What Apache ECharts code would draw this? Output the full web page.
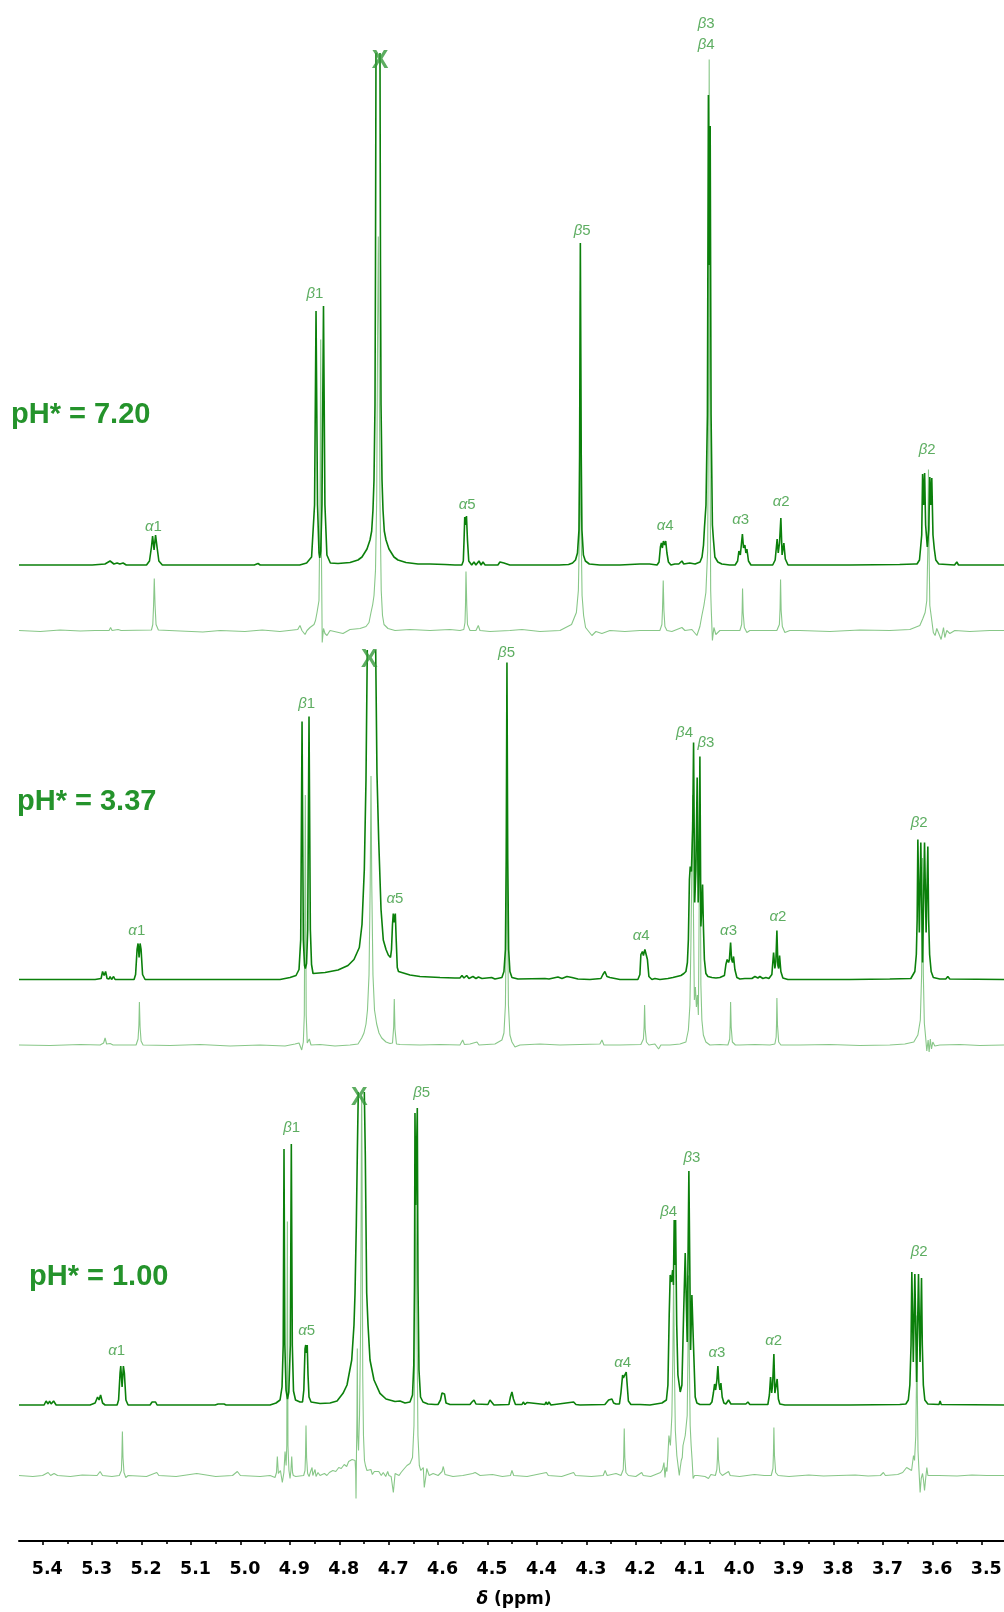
<!DOCTYPE html>
<html><head><meta charset="utf-8">
<script src="https://cdn.jsdelivr.net/npm/echarts@6/dist/echarts.min.js"></script>
<style>html,body{margin:0;padding:0;background:#fff}#c{width:1004px;height:1612px}</style>
</head><body><div id="c"></div>
<script>
// ---------- DATA ----------
const tickValues = [5.4,5.3,5.2,5.1,5.0,4.9,4.8,4.7,4.6,4.5,4.4,4.3,4.2,4.1,4.0,3.9,3.8,3.7,3.6,3.5];
const minorTickValues = [5.45,5.35,5.25,5.15,5.05,4.95,4.85,4.75,4.65,4.55,4.45,4.35,4.25,4.15,4.05,3.95,3.85,3.75,3.65,3.55];
const spectrumNames = ['pH* = 7.20','pH* = 3.37','pH* = 1.00'];

// [ppm, intensity above the trace baseline]; null = truncated peak
const topMain = [[5.448,0],[5.300,0],[5.274,1],[5.2637,4],[5.256,1],[5.2495,2],[5.244,1],[5.2374,2],[5.231,0],
[5.190,0],[5.184,4],[5.180,18],[5.1777,29],[5.1747,15],[5.1717,30],[5.1687,18],[5.165,4],[5.158,0],
[4.980,0],[4.9765,2],[4.972,0],[4.9643,1.5],[4.960,0],
[4.880,0],[4.866,2],[4.856,8],[4.850,60],[4.8470,254],[4.844,60],[4.8410,12],[4.8395,7],[4.8375,14],[4.835,60],[4.8319,259],[4.829,60],[4.825,10],[4.818,2],
[4.8025,1.5],[4.7782,2.5],[4.7621,5],[4.7540,8],[4.7439,16],[4.7378,25],[4.7344,34],[4.7318,55],[4.7297,85],[4.7277,160],[4.7267,300],[4.7257,512],[4.7216,null],[4.7176,512],[4.7166,300],[4.7155,160],[4.7135,85],[4.7115,55],[4.7089,34],[4.7054,25],[4.6994,16],[4.6893,8],[4.6812,5],[4.6650,2.5],[4.6407,1],[4.6164,1],[4.5861,0.5],[4.5659,0],
[4.5520,0],[4.5490,4],[4.5475,25],[4.5461,48],[4.5444,40],[4.5426,49],[4.5406,25],[4.5380,4],[4.5320,0],
[4.5274,3],[4.5235,0],[4.5173,4],[4.5130,0],[4.5092,3],[4.5050,0],
[4.479,0],[4.4749,3],[4.4668,2],[4.455,0],[4.430,0],[4.4283,2],[4.425,0],
[4.355,0],[4.336,0.5],[4.328,2],[4.322,5],[4.318,12],[4.315,35],[4.3137,110],[4.3122,322],[4.3104,110],[4.309,35],[4.306,10],[4.302,4],[4.294,1],[4.273,0],
[4.232,0],[4.192,1],[4.172,1],
[4.157,0],[4.153,3],[4.1502,18],[4.1482,22],[4.1462,17],[4.1441,24],[4.1415,20],[4.1395,24],[4.1370,12],[4.134,3],[4.129,0],
[4.121,1],[4.113,1],[4.1067,4],[4.103,1],[4.091,2],[4.080,1],[4.070,3],
[4.066,8],[4.063,20],[4.061,38],[4.058,60],[4.0551,150],[4.0531,470],[4.0513,300],[4.0495,439],[4.0477,150],[4.045,40],[4.043,26],[4.040,8],[4.034,3],[4.026,1],[4.010,0],
[3.999,0],[3.994,4],[3.9914,14],[3.9885,10],[3.9843,31],[3.982,17],[3.9793,20],[3.9772,12],[3.9752,16],[3.972,4],[3.967,0],
[3.923,0],[3.918,5],[3.9140,26],[3.9118,12],[3.9092,22],[3.9065,47],[3.904,10],[3.9004,22],[3.8975,6],[3.892,0],
[3.868,0],[3.767,0],[3.666,0.5],[3.636,1],
[3.631,1],[3.626,5],[3.624,16],[3.6215,30],[3.6197,91],[3.6177,60],[3.6156,92],[3.6136,40],[3.6102,18],[3.6072,35],[3.6051,88],[3.6031,60],[3.6011,87],[3.5987,30],[3.596,16],[3.593,5],[3.587,1],
[3.555,0],[3.5505,3],[3.547,0],[3.455,0]];

const topPure = [[5.448,0],[5.405,-1],[5.365,0.5],[5.324,-0.5],[5.294,0],[5.2657,0],[5.2627,3],[5.2597,0],[5.2475,1],[5.2414,0],
[5.180,0.5],[5.1773,6],[5.1757,25],[5.1743,52],[5.1727,25],[5.1707,6],[5.166,0.5],
[5.122,-0.5],[5.076,-1.5],[5.041,0],[4.991,-1],[4.956,0.5],[4.920,-1],[4.884,1],[4.8795,5],[4.8755,0],[4.8693,-4],[4.8652,0],[4.8592,3],[4.8511,6],[4.8481,10],[4.8450,18],[4.8410,30],[4.8390,120],[4.8375,291],[4.8361,80],[4.8345,-12],[4.8319,2],[4.8289,-3],[4.8248,-5],[4.8187,0],[4.7924,-3],[4.7782,1],[4.7580,2],
[4.7459,4],[4.7398,8],[4.7358,18],[4.7323,26],[4.7297,35],[4.7267,60],[4.7243,130],[4.7224,300],[4.7210,394],[4.7196,300],[4.7176,130],[4.7151,40],[4.7125,15],[4.7095,6],[4.7014,2],[4.6872,0],[4.6569,1],[4.6164,0],[4.5760,1],[4.5558,0],
[4.5480,1],[4.5456,8],[4.5446,25],[4.5436,59],[4.5420,25],[4.5406,6],[4.5355,0],[4.5234,0],[4.5187,5],[4.5153,0],[4.4951,-1],[4.4547,0],[4.4303,1],[4.3940,-1],[4.3535,0],
[4.330,6],[4.3202,18],[4.3162,40],[4.3132,120],[4.3122,340],[4.3112,120],[4.3087,35],[4.3056,15],[4.3016,3],[4.2888,-5],[4.2807,-1],[4.2686,-3],[4.2524,0],[4.2220,-1],[4.1917,0],[4.1613,0],
[4.1513,0],[4.1472,6],[4.1459,22],[4.1445,50],[4.1431,20],[4.1411,4],[4.1370,0],[4.1270,-1],[4.1067,3],[4.1006,0],[4.0865,1],[4.0764,-5],[4.0703,4],[4.0663,15],[4.0622,25],[4.0582,38],[4.0546,80],[4.0527,250],[4.0515,571],[4.0503,250],[4.0485,40],[4.0474,22],[4.0450,-10],[4.0420,3],[4.0380,-4],[4.0299,0],[4.0096,0],
[3.9894,0],[3.9858,6],[3.9848,20],[3.9840,42],[3.9828,18],[3.9804,3],[3.9753,-2],[3.9692,0],
[3.9146,0],[3.9095,6],[3.9081,22],[3.9071,51],[3.9059,20],[3.9035,4],[3.8984,-2],[3.8883,0],
[3.8681,0],[3.8074,-1],[3.7468,0.5],[3.6861,0],[3.6455,1],[3.6253,5],[3.6192,12],[3.6146,18],[3.6112,30],[3.6092,80],[3.6078,161],[3.6066,80],[3.6051,25],[3.6011,10],[3.5980,-2],[3.5944,-5],[3.5910,2],[3.5869,-3],[3.5822,-9],[3.5774,3],[3.5748,-7],[3.5707,0],[3.5646,-3],[3.5545,0],[3.5242,-1],[3.4838,0],[3.455,0]];

const midMain = [[5.448,0],[5.365,0],[5.294,0],[5.2819,1],[5.2789,8],[5.2758,4],[5.2728,8],[5.2698,1],[5.2657,0.5],[5.2637,3],[5.2607,0],[5.2566,3],[5.2536,0],
[5.2152,0],[5.2121,5],[5.2091,30],[5.2071,36],[5.2050,22],[5.2030,36],[5.2010,30],[5.1980,5],[5.1929,0],
[5.0128,0],[5.0088,2],[5.0048,0],[4.9967,0],[4.9953,1.5],[4.9906,0],
[4.9198,0],[4.8996,2],[4.8875,4],[4.8814,10],[4.8780,40],[4.8753,258],[4.8727,40],[4.8703,14],[4.8687,11],[4.8662,16],[4.8638,50],[4.8612,263],[4.8585,50],[4.8561,15],[4.8531,6],
[4.8288,7],[4.8025,9.5],[4.7823,14],[4.7702,20],[4.7594,32],[4.7540,55],[4.7493,110],[4.7459,200],[4.7433,329.5],[4.7348,null],[4.7263,329.5],[4.7237,206],[4.7202,139.5],[4.7155,70],[4.7109,39.5],[4.7054,30],[4.7008,24.5],[4.6963,22],[4.6943,30],[4.6923,55],[4.6907,66],[4.6887,57],[4.6866,66],[4.6848,40],[4.6826,12],[4.6802,8],[4.6771,6.5],[4.6569,4.5],[4.6367,3],[4.5962,2],[4.5659,1.5],
[4.5558,1.5],[4.5517,4],[4.5477,1.5],[4.5422,4],[4.5376,1],[4.5295,3],[4.5234,1],[4.5184,2.5],[4.5113,1],[4.4917,2],[4.4850,0.5],
[4.4709,2],[4.4668,8],[4.4638,30],[4.4622,120],[4.4607,317],[4.4591,120],[4.4573,30],[4.4547,8],[4.4506,2],[4.4384,0.5],
[4.3838,1],[4.3798,3],[4.3757,0.5],[4.3575,2.5],[4.3494,1],[4.3393,3],[4.3292,2],[4.3171,0.5],[4.2928,0],[4.2706,1],[4.2665,5],[4.2625,8],[4.2584,3],[4.2524,2],[4.2321,0],
[4.1958,0],[4.1917,5],[4.1897,25],[4.1866,28],[4.1846,24],[4.1816,30],[4.1785,28],[4.1765,20],[4.1735,3],[4.1674,0],[4.1613,1],[4.1512,0],[4.1350,1],[4.1249,2],[4.1168,3],[4.1087,4],[4.1027,6],[4.0986,8],
[4.0956,17],[4.0936,40],[4.0915,100],[4.0899,113],[4.0875,108],[4.0849,150],[4.0831,237],[4.0808,77],[4.0784,110],[4.0758,202],[4.0738,77],[4.0719,110],[4.0703,223],[4.0683,53],[4.0667,70],[4.0649,95],[4.0633,55],[4.0612,20],[4.0582,6],[4.0541,3],[4.0460,2],[4.0379,1.5],[4.0298,2],
[4.0258,1],[4.0207,4],[4.0177,15],[4.0151,20],[4.0123,17],[4.0106,20],[4.0082,37],[4.0062,20],[4.0042,17],[4.0022,23],[3.9995,10],[3.9955,2],[3.9894,0.5],
[3.9793,1],[3.9651,1],[3.9590,3],[3.9530,1.5],[3.9489,3],[3.9429,1],[3.9368,2],[3.9307,1],
[3.9277,1],[3.9247,5],[3.9212,27],[3.9186,11],[3.9166,18],[3.9145,49],[3.9125,14],[3.9109,11],[3.9091,24],[3.9065,8],[3.9024,1.5],[3.8923,0],
[3.8681,0],[3.7670,0],[3.6861,0.5],[3.6435,1],
[3.6395,2],[3.6354,8],[3.6324,25],[3.6307,60],[3.6293,140],[3.6263,47],[3.6233,137],[3.6198,17],[3.6158,137],[3.6126,47],[3.6091,133],[3.6075,60],[3.6055,25],[3.6024,8],[3.5980,2],[3.5849,0.5],[3.5728,0.5],[3.5687,3],[3.5647,0.5],[3.455,0]];

const midPure = [[5.448,0],[5.385,-0.5],[5.324,0.5],[5.284,0],[5.2768,2],[5.2738,7],[5.2708,1],[5.2637,1.5],[5.2576,0],
[5.2111,0],[5.2071,6],[5.2054,20],[5.2044,43],[5.2030,18],[5.2010,4],[5.1970,0],
[5.1423,-0.5],[5.0818,0.5],[5.0210,-1],[4.9603,0],[4.9097,-1],[4.8895,1],[4.8814,2],[4.8760,-5],[4.8727,3],[4.8707,30],[4.8687,250],[4.8669,30],[4.8648,2],[4.8606,6],[4.8572,0],[4.8390,0.5],[4.8086,-1],[4.7782,0],[4.7621,1],
[4.7546,7],[4.7500,12],[4.7459,21],[4.7429,35],[4.7398,70],[4.7374,160],[4.7358,269],[4.7342,160],[4.7318,70],[4.7287,35],[4.7243,21],[4.7196,12],[4.7141,7],[4.7054,3],[4.6973,1.5],
[4.6923,2],[4.6899,18],[4.6887,46],[4.6873,16],[4.6843,1],
[4.6771,0.5],[4.6367,0],[4.5962,0.5],[4.5558,0],[4.5503,5],[4.5467,0.5],[4.5355,1],[4.5214,3],[4.5173,0],[4.4850,1],
[4.4709,5],[4.4668,12],[4.4638,40],[4.4622,120],[4.4607,330],[4.4593,120],[4.4577,40],[4.4547,10],[4.4506,3],[4.4445,-2],[4.4344,0],[4.3940,1],[4.3535,0],[4.3130,0.5],[4.2726,1],[4.2685,5],[4.2645,0],[4.2321,0],
[4.1897,0.5],[4.1846,6],[4.1832,18],[4.1822,40],[4.1810,16],[4.1785,3],[4.1735,0],[4.1613,1],[4.1539,-4],[4.1492,0],[4.1310,0],[4.1107,1],[4.0986,3],[4.0936,15],[4.0905,40],[4.0885,100],[4.0865,180],[4.0849,250],[4.0831,120],[4.0815,45],[4.0794,58],[4.0774,38],[4.0754,50],[4.0734,30],[4.0714,160],[4.0698,220],[4.0683,60],[4.0663,25],[4.0633,10],[4.0582,3],[4.0501,0],[4.0298,0.5],
[4.0136,0],[4.0100,6],[4.0090,20],[4.0082,43],[4.0070,18],[4.0046,3],[4.0015,4],[3.9985,0],[3.9894,0],[3.9590,0.5],[3.9287,0],
[3.9186,1],[3.9160,8],[3.9152,22],[3.9145,47],[3.9133,20],[3.9109,3],[3.9065,0],[3.8681,0],[3.8074,0.5],[3.7468,-0.5],[3.6861,0],[3.6557,1],[3.6375,3],[3.6293,10],[3.6243,25],[3.6217,70],[3.6198,187],[3.6182,70],[3.6162,22],[3.6136,8],[3.6112,-6],[3.6085,5],[3.6065,-7],[3.6041,6],[3.6017,-4],[3.5990,3],[3.5950,-1],[3.5849,0],[3.5444,0.5],[3.5040,-0.5],[3.455,0]];

const lowMain = [[5.448,0],[5.3972,0],[5.3932,4],[5.3891,1],[5.3861,4],[5.3830,1],[5.3780,4],[5.3729,0],
[5.3042,0],[5.2940,2],[5.2890,8],[5.2860,5],[5.2829,10],[5.2789,2],[5.2738,0],
[5.2495,0],[5.2465,5],[5.2435,32],[5.2421,39],[5.2394,18],[5.2368,39],[5.2348,32],[5.2317,5],[5.2273,0],
[5.1828,0],[5.1787,3],[5.1757,1],[5.1717,3],[5.1686,0],[5.0513,0],[5.0452,1],[5.0331,1],[5.0290,0],
[4.9401,0],[4.9279,2],[4.9198,5],[4.9158,18],[4.9134,60],[4.9118,256],[4.9101,60],[4.9077,15],[4.9047,6],[4.9021,13],[4.8990,60],[4.8970,261],[4.8950,60],[4.8926,14],[4.8885,5],[4.8794,3],[4.8743,3],[4.8717,15],[4.8693,56],[4.8679,60],[4.8662,52],[4.8648,60],[4.8632,30],[4.8612,8],[4.8571,3],
[4.8389,1.5],[4.8187,2],[4.8045,4],[4.7924,11.7],[4.7843,20],[4.7748,45],[4.7702,80],[4.7681,112],[4.7655,180],[4.7635,250],[4.7615,313],[4.7554,null],[4.7493,313],[4.7473,250],[4.7459,180],[4.7445,112],[4.7418,80],[4.7378,45],[4.7297,25],[4.7176,11.7],[4.7054,6],[4.6872,3.5],[4.6771,4],[4.6731,2],[4.6670,2],
[4.6569,3],[4.6518,10],[4.6492,40],[4.6478,120],[4.6468,292],[4.6452,200],[4.6437,250],[4.6421,297],[4.6407,120],[4.6387,35],[4.6356,8],[4.6306,3],[4.6205,1],[4.6063,0.5],
[4.6002,0.5],[4.5952,5],[4.5921,12],[4.5895,13],[4.5871,11],[4.5840,2],[4.5760,0.5],[4.5355,0.5],[4.5315,3],[4.5274,5],[4.5234,1],[4.4992,0.5],[4.4951,5],[4.4911,4],[4.4870,0],
[4.4567,0.5],[4.4537,8],[4.4506,13],[4.4476,6],[4.4435,0.5],[4.4303,0.5],[4.4277,3],[4.4243,0.5],[4.4202,2.5],[4.4162,0.5],[4.3838,0.5],[4.3818,3],[4.3788,0.5],[4.3757,3],[4.3717,0],[4.3258,3],[4.3211,0.5],[4.3171,1.5],[4.3130,0],
[4.2625,0.5],[4.2550,5],[4.2513,3],[4.2483,6],[4.2449,2],[4.2402,1],
[4.2331,1],[4.2301,12],[4.2267,30],[4.2251,27],[4.2234,28],[4.2214,27],[4.2194,33],[4.2174,20],[4.2150,4],[4.2099,0.5],[4.1917,0.5],[4.1715,0],[4.1593,1],[4.1471,2],[4.1381,5],
[4.1350,20],[4.1324,90],[4.1304,130],[4.1279,123],[4.1255,135],[4.1239,120],[4.1223,185],[4.1209,140],[4.1195,185],[4.1172,80],[4.1148,30],[4.1101,13],[4.1067,20],[4.1033,90],[4.1000,152],[4.0960,63],[4.0926,234],[4.0891,55],[4.0865,110],[4.0831,57],[4.0798,8],[4.0764,2],[4.0703,0.5],
[4.0501,0.5],[4.0460,3],[4.0430,12],[4.0406,21],[4.0385,15],[4.0359,25],[4.0339,39],[4.0319,22],[4.0298,15],[4.0278,22],[4.0252,8],[4.0218,2],[4.0177,1],[4.0123,5],[4.0076,1],[3.9853,1],[3.9813,3],[3.9773,1],[3.9732,3],[3.9692,0.5],
[3.9328,0.5],[3.9297,10],[3.9273,28],[3.9251,12],[3.9232,20],[3.9206,51],[3.9186,12],[3.9162,10],[3.9140,26],[3.9115,6],[3.9085,1],[3.8984,0],
[3.8681,0],[3.7670,0],[3.6659,0.5],[3.6536,1],
[3.6486,5],[3.6455,20],[3.6431,60],[3.6415,133],[3.6385,43],[3.6354,131],[3.6318,23],[3.6280,131],[3.6249,43],[3.6219,127],[3.6203,60],[3.6182,20],[3.6152,5],[3.6091,1],[3.5865,0.5],[3.5843,4],[3.5820,0.5],[3.455,0]];

const lowPure = [[5.448,0],[5.420,-1],[5.4003,0],[5.3891,3],[5.3840,0],[5.3770,2],[5.3700,0],[5.3440,-1],[5.3200,0.5],[5.2900,0],[5.2839,4],[5.2790,0],[5.2600,-1],
[5.2450,0],[5.2408,5],[5.2398,20],[5.2388,44],[5.2376,18],[5.2356,3],[5.2320,-2],[5.2270,0],
[5.1900,-1],[5.1692,3],[5.1650,0],[5.1300,-1],[5.0883,2],[5.0850,0],[5.0500,-1],[5.0160,0],[5.0062,4],[5.0000,0],[4.9600,-1],[4.9400,0],
[4.9300,-2],[4.9270,3],[4.9253,19],[4.9232,2],[4.9190,5],[4.9152,-7],[4.9120,3],[4.9097,24],[4.9075,10],[4.9062,30],[4.9050,254],[4.9038,30],[4.9018,5],[4.8996,-3],[4.8978,5],[4.8962,19],[4.8945,3],[4.8930,0],[4.8880,-1],
[4.8720,0],[4.8693,5],[4.8683,20],[4.8673,50],[4.8661,18],[4.8640,2],[4.8610,-1],[4.8580,4],[4.8550,8],[4.8535,0],[4.8510,2],[4.8490,6],[4.8470,-1],[4.8430,3],[4.8390,0],[4.8350,-2],[4.8300,2],[4.8250,0],
[4.8200,3],[4.8130,5],[4.8070,4],[4.8010,8],[4.7960,7],[4.7900,11],[4.7850,9],[4.7810,14],[4.7770,12],[4.7740,16],[4.7720,14],[4.7700,18],
[4.7680,15],[4.7668,5],[4.7661,-23],[4.7652,20],[4.7642,60],[4.7635,127],[4.7626,40],[4.7610,25],[4.7590,60],[4.7565,160],[4.7550,360],[4.7546,380],[4.7538,300],[4.7525,100],[4.7510,40],[4.7490,15],[4.7470,10],[4.7440,5],[4.7400,3],[4.7360,6],[4.7330,1],[4.7290,4],[4.7250,2],[4.7200,4],[4.7150,0],[4.7110,3],[4.7060,-1],[4.7020,4],[4.6995,0],[4.6950,-1],[4.6906,-17],[4.6870,2],[4.6830,4],[4.6790,0],[4.6750,3],[4.6700,6],[4.6670,8],[4.6630,10],[4.6600,12],
[4.6569,12],[4.6518,18],[4.6488,50],[4.6468,150],[4.6448,300],[4.6428,150],[4.6408,40],[4.6380,10],[4.6350,5],[4.6300,8],[4.6280,-12],[4.6240,2],[4.6230,7],[4.6180,0],[4.6100,2],[4.6000,0],[4.5920,4],[4.5895,9],[4.5860,1],[4.5700,-1],[4.5500,0],[4.5300,2],[4.5250,3],[4.5150,0],[4.4900,1],[4.4700,-1],
[4.4537,0],[4.4506,5],[4.4470,0],[4.4200,-1],[4.3808,3],[4.3770,0],[4.3500,-1],[4.3258,3],[4.3220,0],[4.2900,-1],[4.2660,0],[4.2620,5],[4.2580,0],[4.2400,2],
[4.2300,0],[4.2254,6],[4.2244,20],[4.2234,47],[4.2222,18],[4.2200,3],[4.2150,0],[4.2000,-1],[4.1880,3],[4.1850,0],[4.1700,-1],[4.1600,1],[4.1500,3],
[4.1460,6],[4.1430,13],[4.1410,-2],[4.1390,8],[4.1370,4],[4.1350,20],[4.1330,40],[4.1300,30],[4.1270,60],[4.1250,120],[4.1235,200],[4.1222,120],[4.1200,45],[4.1170,20],[4.1140,8],[4.1120,0],[4.1100,8],[4.1080,15],[4.1060,18],[4.1045,30],
[4.1000,40],[4.0960,60],[4.0945,120],[4.0932,200],[4.0915,110],[4.0900,50],[4.0880,30],[4.0860,15],[4.0840,-3],[4.0810,0],[4.0780,2],[4.0750,0],[4.0600,-1],[4.0530,-3],[4.0480,1],
[4.0390,0],[4.0360,6],[4.0348,18],[4.0339,38],[4.0327,16],[4.0300,3],[4.0250,0],[4.0123,4],[4.0090,0],[3.9900,-1],[3.9600,1],[3.9400,0],
[3.9260,0],[3.9225,7],[3.9215,22],[3.9206,48],[3.9194,20],[3.9170,3],[3.9120,0],[3.8900,-1],[3.8500,0.5],[3.8200,-0.5],[3.7900,0],[3.7560,0.5],[3.7300,-0.5],[3.7050,0],[3.6990,3],[3.6950,0],[3.6700,1],[3.6600,3],[3.6520,8],
[3.6420,5],[3.6381,20],[3.6360,15],[3.6335,40],[3.6322,90],[3.6313,160],[3.6303,80],[3.6290,25],[3.6270,5],[3.6247,-17],[3.6225,-3],[3.6198,2],[3.6178,-5],[3.6158,-15],[3.6135,-3],[3.6111,8],[3.6090,0],[3.5860,0],[3.5843,2],[3.5820,0],[3.5500,-0.5],[3.5200,0.5],[3.4900,0],[3.455,0]];

// peak labels: [text, ppm, height above the dark trace baseline]
const topLabels = [['α1',5.1761,38.5],['β1',4.8491,271],['X',4.7176,504],['α5',4.5410,60],['β5',4.3084,334],['β3',4.0576,541],['β4',4.0576,520],['α4',4.1405,39],['α3',3.9880,45],['α2',3.9059,63],['β2',3.6106,115]];
const midLabels = [['α1',5.2097,48.5],['β1',4.8658,275.5],['X',4.7392,319.5],['α5',4.6872,80.5],['β5',4.4615,327],['β4',4.1013,246.5],['β3',4.0582,236.5],['α4',4.1890,43.5],['α3',4.0123,48.5],['α2',3.9125,62.5],['β2',3.6267,156.5]];
const lowLabels = [['α1',5.2502,54],['β1',4.8962,277],['α5',4.8658,74],['X',4.7594,307],['β5',4.6332,312],['α4',4.2267,42],['β4',4.1336,193],['β3',4.0865,247],['α3',4.0359,52],['α2',3.9212,64],['β2',3.6267,153]];

// ---------- LAYOUT / STYLE ----------
const DARK = '#0b800b', LIGHT = '#88c788', LABEL = '#34993a', PH = '#24932b';
const offsets = {top:[976, 910.5], mid:[561.5, 496], low:[136, 65.5]};

function shift(arr, base){ return arr.map(p => [p[0], p[1] === null ? '-' : p[1] + base]); }
function lineSeries(arr, base, color, width, z){
  return {type:'line', data:shift(arr, base), showSymbol:false, symbol:'none', silent:true, z:z,
    lineStyle:{color:color, width:width}, itemStyle:{color:color}, connectNulls:false, sampling:null, animation:false};
}
function labelSeries(labels, base){
  return {type:'scatter', silent:true, z:10, symbolSize:1, itemStyle:{color:'rgba(0,0,0,0)'},
    data: labels.map(l => [l[1], l[2] + base, l[0]]),
    label:{show:true, position:'inside',
      formatter: p => p.data[2] === 'X' ? '{x|X}' : '{g|' + p.data[2].charAt(0) + '}{n|' + p.data[2].slice(1) + '}',
      rich:{
        g:{fontFamily:'Liberation Sans', fontStyle:'italic', fontSize:15, color:LABEL},
        n:{fontFamily:'Liberation Sans', fontSize:15, color:LABEL},
        x:{fontFamily:'Liberation Sans', fontWeight:'bold', fontSize:25, color:LABEL}
      }}};
}

const chart = echarts.init(document.getElementById('c'), null, {renderer:'canvas'});
chart.setOption({
  animation:false,
  backgroundColor:'#ffffff',
  grid:{left:19, right:0, top:0, bottom:71, containLabel:false, outerBoundsMode:'none'},
  xAxis:[
    {type:'value', min:3.455, max:5.448, inverse:true, position:'bottom',
      axisLine:{show:true, onZero:false, lineStyle:{color:'#000', width:2}},
      axisTick:{show:true, length:4, customValues:tickValues, lineStyle:{color:'#000', width:1.6}},
      axisLabel:{show:true, customValues:tickValues, formatter:v => Number(v).toFixed(1),
        color:'#000', fontFamily:'DejaVu Sans', fontWeight:'bold', fontSize:17.5, margin:19, padding:[0,0,0,9]},
      splitLine:{show:false}},
    {type:'value', min:3.455, max:5.448, inverse:true, position:'bottom',
      axisLine:{show:false, onZero:false},
      axisTick:{show:true, length:3, customValues:minorTickValues, lineStyle:{color:'#000', width:1.6}},
      axisLabel:{show:false}, splitLine:{show:false}}
  ],
  yAxis:{type:'value', min:0, max:1541, show:false},
  series:[
    lineSeries(topPure, offsets.top[1], LIGHT, 1.1, 2),
    lineSeries(midPure, offsets.mid[1], LIGHT, 1.1, 2),
    lineSeries(lowPure, offsets.low[1], LIGHT, 1.1, 2),
    lineSeries(topMain, offsets.top[0], DARK, 1.6, 3),
    lineSeries(midMain, offsets.mid[0], DARK, 1.6, 3),
    lineSeries(lowMain, offsets.low[0], DARK, 1.6, 3),
    labelSeries(topLabels, offsets.top[0]),
    labelSeries(midLabels, offsets.mid[0]),
    labelSeries(lowLabels, offsets.low[0])
  ],
  graphic:[
    {type:'text', x:11, y:415, style:{text:spectrumNames[0], fill:PH, font:'bold 29px "Liberation Sans"', textAlign:'left', textVerticalAlign:'middle', verticalAlign:'middle'}},
    {type:'text', x:17, y:802, style:{text:spectrumNames[1], fill:PH, font:'bold 29px "Liberation Sans"', textAlign:'left', textVerticalAlign:'middle', verticalAlign:'middle'}},
    {type:'text', x:29, y:1277, style:{text:spectrumNames[2], fill:PH, font:'bold 29px "Liberation Sans"', textAlign:'left', textVerticalAlign:'middle', verticalAlign:'middle'}},
    {type:'text', x:514, y:1600, style:{text:'{i|δ} (ppm)', fill:'#000', font:'bold 17px "DejaVu Sans"', textAlign:'center', textVerticalAlign:'middle', verticalAlign:'middle', align:'center',
      rich:{i:{fontStyle:'italic', fontWeight:'bold', fontSize:17, fontFamily:'DejaVu Sans', fill:'#000', color:'#000'}}}}
  ]
});
</script>
</body></html>
